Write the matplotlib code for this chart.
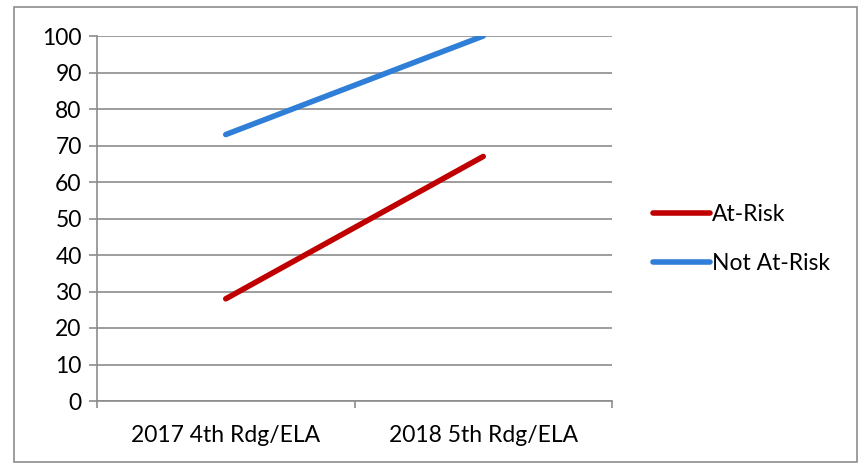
import matplotlib.pyplot as plt
from matplotlib.patches import Rectangle
from matplotlib.lines import Line2D

categories = ['2017 4th Rdg/ELA', '2018 5th Rdg/ELA']
at_risk = [28, 67]
not_at_risk = [73, 100]
yticks = list(range(0, 101, 10))

plt.rcParams['font.family'] = ['Lato', 'DejaVu Sans']

W, H = 859, 465
fs = 16.5
fig = plt.figure(figsize=(W / 100, H / 100), dpi=100)

# outer chart border
fig.patches.append(Rectangle((14 / W, 1 - 462 / H), (857 - 14) / W, (462 - 7) / H,
                             transform=fig.transFigure, fill=False,
                             edgecolor='#8c8c8c', linewidth=1.2))

ax = fig.add_axes([97 / W, 1 - 401 / H, (612 - 97) / W, (401 - 36) / H])
x = [0.5, 1.5]
ax.plot(x, at_risk, color='#C00000', linewidth=4.0, solid_capstyle='round', label='At-Risk')
ax.plot(x, not_at_risk, color='#2F7ED8', linewidth=4.0, solid_capstyle='round', label='Not At-Risk')

ax.set_xlim(0, 2)
ax.set_ylim(0, 100)
ax.set_yticks(yticks)
ax.set_yticklabels([str(v) for v in yticks], fontsize=fs)
ax.yaxis.grid(True, color='#8c8c8c', linewidth=1.2)
ax.set_axisbelow(True)

ax.set_xticks([0, 1, 2])
ax.set_xticklabels([])
ax.set_xticks(x, minor=True)
ax.set_xticklabels(categories, minor=True, fontsize=fs)
ax.tick_params(axis='x', which='minor', length=0, pad=17)
ax.tick_params(axis='x', which='major', length=5, direction='out', color='#8c8c8c', width=1.2)
ax.tick_params(axis='y', length=6, direction='out', color='#8c8c8c', width=1.2, pad=5)

for s in ['top', 'right']:
    ax.spines[s].set_visible(False)
for s in ['left', 'bottom']:
    ax.spines[s].set_color('#8c8c8c')
    ax.spines[s].set_linewidth(1.2)

handles = [Line2D([], [], color='#C00000', linewidth=4.0, solid_capstyle='round'),
           Line2D([], [], color='#2F7ED8', linewidth=4.0, solid_capstyle='round')]
fig.legend(handles, ['At-Risk', 'Not At-Risk'], loc='center left',
           bbox_to_anchor=(644 / W, 1 - 239 / H), frameon=False, fontsize=fs,
           handlelength=2.5, handletextpad=0.05, labelspacing=1.2, borderaxespad=0)

fig.savefig('out.png', dpi=100)
